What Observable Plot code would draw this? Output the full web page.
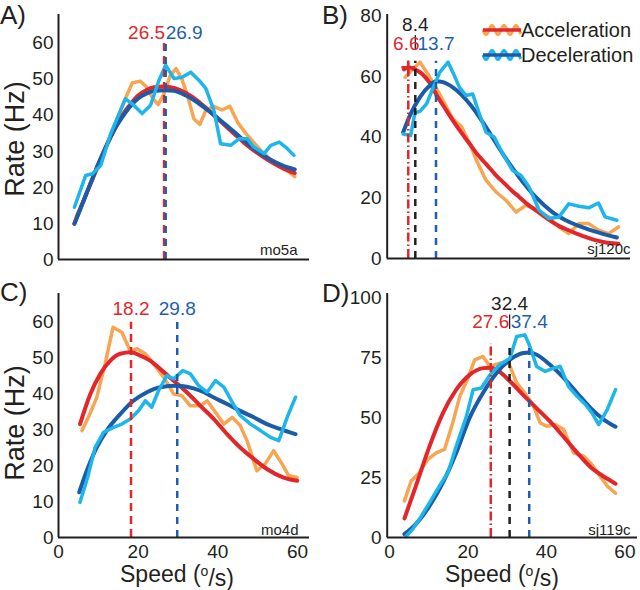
<!DOCTYPE html>
<html><head><meta charset="utf-8">
<script src="https://cdn.jsdelivr.net/npm/d3@7"></script>
<script src="https://cdn.jsdelivr.net/npm/@observablehq/plot@0.6"></script>
<style>
body{margin:0;background:#fff;}
#fig{position:relative;width:640px;height:590px;font-family:"Liberation Sans",Arial,Helvetica,sans-serif;color:#231f20;}
#fig > svg{position:absolute;}
</style></head><body><div id="fig"></div>
<script>
// ---------- DATA ([speed, rate]) ----------
const A_accRaw = [[4.5,12],[6.5,17],[8.5,22],[10.5,27],[12.5,33],[14.5,38.5],[16.5,44],[18.5,49],[20.5,49.5],[22,48],[23.5,45],[25,43],[26.5,46],[28,51],[29.5,53],[31,50],[32.5,45],[34,39],[35.5,37.5],[37,41.5],[39,42.5],[41,41.5],[43,42.5],[45,38],[47,35],[49,32.5],[51,30],[53,28],[55,26.5],[57,25],[59.3,23]];
const A_accFit = [[4,10],[6,15.5],[8,21],[10,26.5],[12,31.5],[14,36],[16,40],[18,43],[20,45.5],[22,47],[24,47.8],[26.5,48],[29,47.6],[32,46.2],[35,44],[38,41],[41,38],[44,35],[47,32],[50,29.5],[53,27.3],[56,25.5],[59.3,24]];
const A_decFit = [[4,9.9],[6,15.5],[8,21],[10,26.5],[12,31.5],[14,36],[16,39.5],[18,42.5],[20,44.7],[22,46],[24,46.8],[26.9,47],[29,46.8],[32,45.5],[35,43.5],[38,41],[41,38.3],[44,35.5],[47,32.6],[50,30],[53,27.8],[56,26.2],[59.3,25]];
const A_decRaw = [[4,14.5],[6.8,23.3],[8.5,23.8],[10.6,26.1],[13.1,34.9],[16.8,44.6],[18.5,43.2],[21,40.5],[23.1,42.8],[25.2,49.7],[26.9,53.9],[29,50.2],[31,50.6],[33.2,52],[35.3,49.7],[37,47.4],[39,41.4],[40.7,32.1],[43.2,31.7],[45.3,33.5],[47.4,33.5],[49,31.2],[51.6,29.4],[53.3,31.7],[55.4,32.6],[57,31.2],[59.1,28.9]];

const B_accRaw = [[5.8,59.7],[7,61.4],[9.6,64.7],[11.3,61.4],[13.4,57],[15.5,52],[18,46],[20.2,43.5],[22.3,38],[24,32.5],[26.5,25.8],[29,22],[31.6,19.2],[34.2,15.3],[36.7,17.5],[39.2,16.4],[42.6,13.7],[45.2,10.4],[47.7,8.2],[50.3,11.5],[52.8,11.5],[55.3,9.3],[57.9,8.2],[60.4,10.4]];
const B_accFit = [[5.5,62.3],[6.6,63],[8,62.5],[10,61],[12,58],[14,53.5],[16,49.5],[18,45.5],[20,41.8],[22.3,37.8],[24.5,34],[26.5,31.2],[29,27.5],[31,25],[33,22.5],[35,20.3],[37,18],[39.2,15.9],[41.5,13.8],[43.5,12],[45.5,10.5],[47.7,9.3],[50,8],[52,7.1],[54,6.2],[56.2,5.5],[58,5.1],[60.4,4.9]];
const B_decFit = [[5.3,41.6],[7,47.1],[9.6,53.2],[12.1,57],[13.7,58.4],[15.5,58.1],[18,56.4],[22.3,51],[26.5,43.3],[30.8,34.5],[35,26.8],[39.2,20.3],[43.5,15.3],[47.7,12.1],[52,9.9],[56.2,8.2],[60,6.9]];
const B_decRaw = [[5.3,41],[7.2,40.5],[8.3,48],[9.6,48.5],[11.3,51],[13,56.4],[14.7,61.4],[16.8,64.7],[18,61.4],[19.7,56.4],[21.4,53.7],[23.1,54.2],[24.8,47.7],[26.5,41.6],[28.6,40],[30.8,34.5],[33.3,29],[35.4,27.4],[37.5,23.6],[40.1,15.9],[42.6,13.2],[45.2,13.7],[47.7,18],[50.3,17.2],[52.8,16.7],[55.3,18.3],[57,13.7],[60,12.6]];

const C_accRaw = [[5.9,29.8],[7.5,33.5],[9.6,39],[11.7,48.4],[13.7,58.6],[15.9,57.2],[18,52],[19.7,52.6],[21.8,51.2],[23.9,48.4],[26.4,44.7],[28.9,40],[31,39.5],[33.1,36.7],[35.6,36.7],[37.3,38.1],[39.4,34.9],[41.5,31.6],[43.6,33.5],[45.6,31.2],[47.3,27],[49.8,18.6],[51.9,20.5],[54,24.2],[56.1,20.5],[57.8,17.2],[59.9,16.7]];
const C_accFit = [[5.4,31.6],[8,40],[10.5,45.6],[13,49.3],[15.5,51.2],[18.2,51.6],[20.5,50.7],[23,49.3],[25.5,47],[28.9,43.7],[32.2,40.5],[35.6,36.7],[39,33],[42.3,28.8],[45.6,25.1],[49,21.9],[52.3,19.1],[56.5,16.7],[59.9,15.8]];
const C_decFit = [[5.2,12.6],[7.1,18.6],[9.6,25.1],[12.1,29.8],[15.5,34.4],[18.8,38.1],[22.2,40.5],[25.5,41.9],[29.8,42.3],[32.2,42],[35.6,40.9],[39,39],[42.3,37.2],[45.6,35.3],[49,33.5],[52.3,31.6],[55.7,30.2],[59.5,28.8]];
const C_decRaw = [[5.4,9.8],[7.3,16.7],[9.2,25.1],[11.3,29.3],[13.8,30.7],[15.9,31.6],[18,33],[20.1,35.3],[21.8,38.1],[23.4,36.3],[25.1,40.9],[27.2,45.1],[28.9,44.2],[31.2,46.5],[33.1,45.6],[35.2,42.3],[37.3,40.5],[39.4,43.7],[41.5,41.9],[43.6,37.7],[45.6,34],[48.2,31.6],[50.7,29.8],[53.2,27.9],[55.3,27],[57.4,33.5],[59.5,39.1]];

const D_accRaw = [[5.6,15.3],[7.3,23.6],[9.4,27.1],[11.5,32.6],[13.7,35.4],[15.8,36.8],[17.9,47.9],[19.7,59],[21.8,66.7],[23.5,74.3],[25.6,75.7],[27.4,71.5],[29.9,72.9],[32,73.6],[34.2,64.6],[36.3,60.4],[38.5,54.9],[40.2,47.9],[41.9,46.5],[44,47.2],[46.2,45.1],[48.7,35.4],[51.3,34],[53,31.2],[55.1,26.4],[57.3,21.5],[59.4,18.5]];
const D_accFit = [[5.6,8],[8.5,21.5],[12,38.2],[15.4,52],[18.8,61.8],[22.2,68],[25.6,70.8],[27.6,71],[29.1,70.1],[32.5,65.3],[35.9,59.5],[39.3,54],[42.7,48.5],[46.2,42],[49.6,35.5],[53,29.5],[56.4,25.5],[59.4,22.5]];
const D_decFit = [[5.6,1.4],[8.5,5.6],[12,13.2],[15.4,22.9],[18.8,35.4],[22.2,50],[25.6,60.4],[29.1,68.8],[32.5,74.3],[35.9,77.1],[37.4,77.3],[39.3,76.4],[42.7,72.2],[46.2,66.7],[49.6,60.4],[53,54.2],[56.4,49.3],[59.4,46.3]];
const D_decRaw = [[6,0.4],[7.7,3.5],[9.4,7.6],[12,14.6],[14.5,21.5],[16.7,27.1],[18.8,38.2],[21.4,50.7],[23.1,61.8],[25.2,62.5],[27.4,68],[29.9,72.2],[32.5,75],[34.2,84],[36.3,84.7],[37.4,80.6],[39.3,71.5],[41.5,69.4],[43.6,70.8],[45.3,71.5],[47.4,63.2],[49.6,59],[51.7,55.6],[53.4,52.1],[55.1,47.2],[57.3,53.5],[59.4,61.8]];

// preferred speeds: [value, kind] kind: acc / dec / both
const A_peaks = [[26.5,"acc"],[26.9,"dec"]];
const B_peaks = [[6.6,"acc"],[8.4,"both"],[13.7,"dec"]];
const C_peaks = [[18.2,"acc"],[29.8,"dec"]];
const D_peaks = [[27.6,"acc"],[32.4,"both"],[37.4,"dec"]];

const A_yTicks = [0,10,20,30,40,50,60];
const B_yTicks = [0,20,40,60,80];
const C_yTicks = [0,10,20,30,40,50,60];
const D_yTicks = [0,25,50,75,100];
const xTicks = [0,20,40,60];
const cellNames = ["mo5a","sj120c","mo4d","sj119c"];
const panelLetters = ["A)","B)","C)","D)"];
const legendLabels = ["Acceleration","Deceleration"];

// ---------- STYLE ----------
const ORANGE = "#F6A552", RED = "#E3262A", LBLUE = "#1DB6EA", DBLUE = "#1B5BA8", INK = "#231f20";
const FONT = "Liberation Sans, Arial, Helvetica, sans-serif";
const peakColor = {acc: RED, dec: "#1F5FAA", both: INK};
const peakDash = {acc: "8,5", dec: "7,6", both: "7,6"};

function panel(cfg) {
  const marks = [];
  const P = d => d[0], Q = d => d[1];
  marks.push(Plot.line(cfg.accRaw, {x: P, y: Q, stroke: ORANGE, strokeWidth: 3.5}));
  marks.push(Plot.line(cfg.accFit, {x: P, y: Q, stroke: RED, strokeWidth: 4, curve: "monotone-x"}));
  marks.push(Plot.line(cfg.decFit, {x: P, y: Q, stroke: DBLUE, strokeWidth: 4, curve: "monotone-x"}));
  marks.push(Plot.line(cfg.decRaw, {x: P, y: Q, stroke: LBLUE, strokeWidth: 3.5}));
  for (const [v, k] of cfg.peaks) {
    const dash = (k === "acc" && cfg.dashDot) ? "9,3,1.5,3" : peakDash[k];
    marks.push(Plot.ruleX([v], {y1: 0, y2: cfg.dashTop, stroke: peakColor[k], strokeWidth: 2.5, strokeDasharray: dash}));
    if (k === "both") {
      marks.push(Plot.ruleX([v], {y1: cfg.thin[0], y2: cfg.thin[1], stroke: INK, strokeWidth: 1.3}));
    }
  }
  if (cfg.plus) {
    marks.push(Plot.dot([cfg.plus], {x: P, y: Q, symbol: "plus", r: 4.5, stroke: RED, strokeWidth: 2.5}));
  }
  for (const [v, k] of cfg.peaks) {
    const lab = cfg.labels(v, k);
    marks.push(Plot.text([v], {x: d => d, y: lab.y, text: d => d.toFixed(1), fill: peakColor[k], fontSize: 19, textAnchor: lab.anchor, dx: lab.dx || 0}));
  }
  marks.push(Plot.ruleX([cfg.x0], {y1: 0, y2: cfg.ydom[1], stroke: INK, strokeWidth: 2}));
  marks.push(Plot.ruleY([0], {x1: cfg.x0, x2: cfg.xdom[1], stroke: INK, strokeWidth: 2}));
  marks.push(Plot.axisY(cfg.yTicks, {tickSize: 0, tickPadding: cfg.yPad, fontSize: 19, fill: INK}));
  if (cfg.showX) marks.push(Plot.axisX(xTicks, {tickSize: 0, tickPadding: cfg.xPad, fontSize: 19, fill: INK, dx: cfg.xdx || 0}));
  marks.push(Plot.text([cfg.name], {frameAnchor: "bottom-right", dx: cfg.nameDx, dy: cfg.nameDy, fontSize: 15, fill: INK, lineAnchor: "bottom"}));
  const svg = Plot.plot({
    width: 320, height: cfg.h,
    marginLeft: cfg.ml, marginRight: cfg.mr, marginTop: cfg.mt, marginBottom: cfg.mb,
    x: {domain: cfg.xdom, axis: null},
    y: {domain: cfg.ydom, axis: null},
    style: {fontFamily: FONT, color: INK, background: "transparent", overflow: "visible"},
    marks
  });
  svg.style.left = cfg.left + "px";
  svg.style.top = cfg.top + "px";
  return svg;
}

const fig = document.getElementById("fig");
fig.append(panel({
  left: 0, top: 0, h: 290, ml: 58, mr: 11, mt: 14, mb: 31,
  xdom: [0, 63], ydom: [0, 68], x0: 0, yTicks: A_yTicks, yPad: 5, showX: false,
  accRaw: A_accRaw, accFit: A_accFit, decFit: A_decFit, decRaw: A_decRaw,
  peaks: A_peaks, dashTop: 61, dashDot: false,
  labels: (v, k) => ({y: 63, anchor: k === "acc" ? "end" : "start", dx: k === "acc" ? 1 : 0}),
  name: cellNames[0], nameDx: -12, nameDy: -5
}));
fig.append(panel({
  left: 320, top: 0, h: 290, ml: 62, mr: 10, mt: 14, mb: 32,
  xdom: [0, 63.5], ydom: [0, 80.4], x0: 1.2, yTicks: B_yTicks, yPad: 1, showX: false,
  accRaw: B_accRaw, accFit: B_accFit, decFit: B_decFit, decRaw: B_decRaw,
  peaks: B_peaks, dashTop: 65, dashDot: true, thin: [68.5, 73.5], plus: [6.6, 63],
  labels: (v, k) => ({y: k === "both" ? 77 : 70.8, anchor: "middle", dx: k === "acc" ? -2 : 0}),
  name: cellNames[1], nameDx: 0, nameDy: -5
}));
fig.append(panel({
  left: 0, top: 290, h: 300, ml: 58, mr: 11, mt: 3, mb: 53,
  xdom: [0, 63], ydom: [0, 68], x0: 0, yTicks: C_yTicks, yPad: 5, showX: true, xPad: 7,
  accRaw: C_accRaw, accFit: C_accFit, decFit: C_decFit, decRaw: C_decRaw,
  peaks: C_peaks, dashTop: 60, dashDot: false,
  labels: (v, k) => ({y: 63.8, anchor: "middle"}),
  name: cellNames[2], nameDx: -11, nameDy: -3
}));
fig.append(panel({
  left: 320, top: 290, h: 300, ml: 62, mr: 3, mt: 3, mb: 53,
  xdom: [0, 65], ydom: [0, 102], x0: 1.2, yTicks: D_yTicks, yPad: 1, showX: true, xPad: 7, xdx: 7,
  accRaw: D_accRaw, accFit: D_accFit, decFit: D_decFit, decRaw: D_decRaw,
  peaks: D_peaks, dashTop: 81, dashDot: true, thin: [87, 93],
  labels: (v, k) => ({y: k === "both" ? 97.5 : 90, anchor: "middle"}),
  name: cellNames[3], nameDx: -7, nameDy: -3
}));

// ---------- overlay: panel letters, axis titles, legend ----------
const ov = d3.select(fig).append("svg")
  .attr("width", 640).attr("height", 590)
  .style("left", "0px").style("top", "0px")
  .attr("font-family", FONT).attr("fill", INK);

const letterPos = [[0, 24], [322, 24], [0, 301], [322, 302]];
panelLetters.forEach((t, i) => ov.append("text").attr("x", letterPos[i][0]).attr("y", letterPos[i][1]).attr("font-size", 26).text(t));

[[15, 139], [15, 423]].forEach(([x, y]) => {
  ov.append("text").attr("transform", `translate(${x},${y}) rotate(-90)`)
    .attr("text-anchor", "middle").attr("dominant-baseline", "central")
    .attr("font-size", 27).text("Rate (Hz)");
});
[[177, 582], [502, 582]].forEach(([x, y]) => {
  const t = ov.append("text").attr("x", x).attr("y", y).attr("text-anchor", "middle").attr("font-size", 23);
  t.append("tspan").text("Speed (");
  t.append("tspan").attr("dy", "-0.45em").attr("font-size", 14).text("o");
  t.append("tspan").attr("dy", "0.45em").text("/s)");
});

const legend = [[30, ORANGE, RED], [55, LBLUE, DBLUE]];
legend.forEach(([cy, light, dark], i) => {
  const pts = d3.range(0, 38.5, 0.5).map(t => [483 + t, cy + 4.5 * Math.sin(t / 12 * 2 * Math.PI)]);
  ov.append("path").attr("d", d3.line()(pts)).attr("fill", "none").attr("stroke", light).attr("stroke-width", 3);
  ov.append("line").attr("x1", 483).attr("x2", 521).attr("y1", cy).attr("y2", cy).attr("stroke", dark).attr("stroke-width", 3.5);
  ov.append("text").attr("x", 521).attr("y", cy).attr("dominant-baseline", "central").attr("font-size", 20).text(legendLabels[i]);
});
</script></body></html>
